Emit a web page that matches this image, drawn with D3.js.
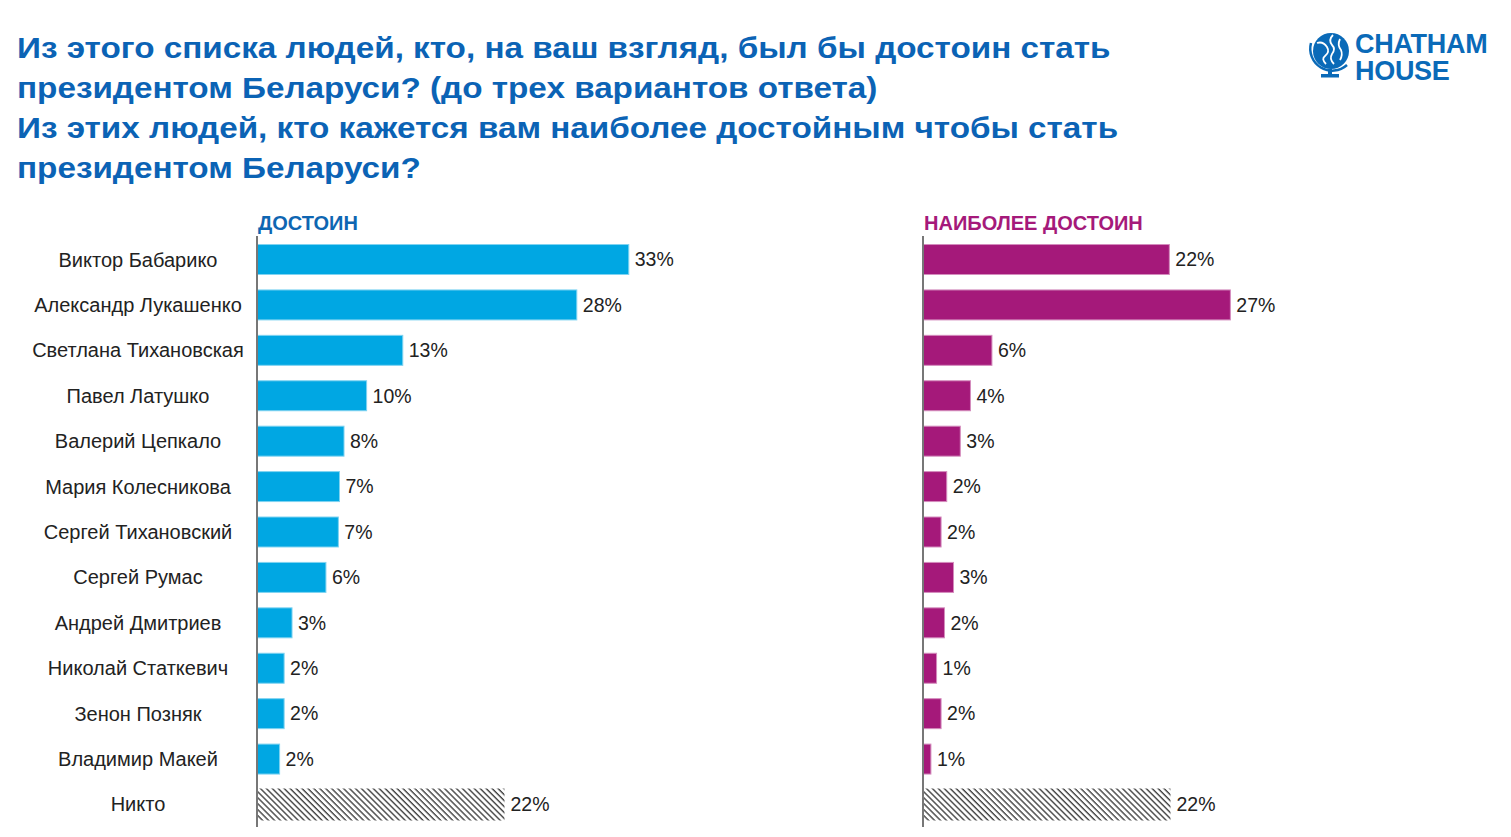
<!DOCTYPE html>
<html><head><meta charset="utf-8">
<script src="https://cdn.jsdelivr.net/npm/d3@7"></script>
<style>body{margin:0;background:#fff;}svg{display:block;font-family:"Liberation Sans",Arial,sans-serif;}</style>
</head><body>
<script>
const categories = ["Виктор Бабарико","Александр Лукашенко","Светлана Тихановская","Павел Латушко","Валерий Цепкало","Мария Колесникова","Сергей Тихановский","Сергей Румас","Андрей Дмитриев","Николай Статкевич","Зенон Позняк","Владимир Макей","Никто"];
const worthy = [32.9,28.3,12.9,9.7,7.7,7.3,7.2,6.1,3.1,2.4,2.4,2.0,21.9];
const mostWorthy = [21.8,27.2,6.1,4.2,3.3,2.1,1.6,2.7,1.9,1.2,1.6,0.7,21.9];
const seriesNames = ["ДОСТОИН","НАИБОЛЕЕ ДОСТОИН"];
const titleLines = ["Из этого списка людей, кто, на ваш взгляд, был бы достоин стать","президентом Беларуси? (до трех вариантов ответа)","Из этих людей, кто кажется вам наиболее достойным чтобы стать","президентом Беларуси?"];

const W=1511,H=837;
const svg=d3.select("body").append("svg").attr("width",W).attr("height",H);
const defs=svg.append("defs");
const pat=defs.append("pattern").attr("id","hatch").attr("patternUnits","userSpaceOnUse").attr("width",4.2).attr("height",4.2).attr("patternTransform","rotate(45)");
pat.append("rect").attr("width",4.2).attr("height",4.2).attr("fill","#fff");
pat.append("rect").attr("x",0).attr("y",0).attr("width",4.2).attr("height",1.4).attr("fill","#444");

// title
svg.append("g").attr("transform","translate(17,0) scale(1.147,1)")
  .selectAll("text").data(titleLines).join("text")
  .attr("x",0).attr("y",(d,i)=>58+i*40)
  .attr("font-size",29).attr("font-weight","bold").attr("fill","#0b63b5").text(d=>d);

// logo
const logo=svg.append("g");
logo.append("circle").attr("cx",1331).attr("cy",51).attr("r",18).attr("fill","#0a6ab8");
logo.append("path").attr("d","M1317,43 q6,-2 10,4 q3,5 -2,9 q-4,3 1,8 M1333,35 q-5,5 -1,10 q4,4 0,9 q-3,5 2,10 M1340,39 q-3,6 1,11 q2,5 -1,10")
  .attr("fill","none").attr("stroke","#fff").attr("stroke-width",1.8);
logo.append("path").attr("d","M1311,43 a22,22 0 0 0 36,22").attr("fill","none").attr("stroke","#0a6ab8").attr("stroke-width",2.5);
logo.append("rect").attr("x",1328).attr("y",69).attr("width",4).attr("height",6).attr("fill","#0a6ab8");
logo.append("rect").attr("x",1321).attr("y",74).attr("width",18).attr("height",3.5).attr("fill","#0a6ab8");
logo.append("text").attr("x",1355).attr("y",53).attr("font-size",27).attr("font-weight","bold").attr("fill","#0a6ab8").attr("letter-spacing",-0.3).text("CHATHAM");
logo.append("text").attr("x",1355).attr("y",80).attr("font-size",27).attr("font-weight","bold").attr("fill","#0a6ab8").attr("letter-spacing",-0.3).text("HOUSE");

const y=d3.scaleBand().domain(categories).range([236.8,827.2]).paddingInner(0.34).paddingOuter(0.17);
const x=d3.scaleLinear().domain([0,35]).range([0,395.5]);

// category labels
svg.append("g").selectAll("text").data(categories).join("text")
  .attr("x",138).attr("y",d=>y(d)+y.bandwidth()/2).attr("dy","0.35em")
  .attr("text-anchor","middle").attr("font-size",20).attr("fill","#222").text(d=>d);

const panels=[{x0:257,vals:worthy,color:"#00a7e3",stroke:"#7fd3f1",hcol:"#0e66b2",name:seriesNames[0]},
              {x0:923,vals:mostWorthy,color:"#a5197a",stroke:"#d48cbd",hcol:"#a5197a",name:seriesNames[1]}];
panels.forEach(p=>{
  const g=svg.append("g").attr("transform",`translate(${p.x0},0)`);
  g.append("text").attr("x",1).attr("y",230).attr("font-size",20).attr("font-weight","bold").attr("fill",p.hcol).text(p.name);
  const data=categories.map((c,i)=>({c,v:p.vals[i],none:c==="Никто"}));
  g.selectAll("rect.bar").data(data).join("rect").attr("class","bar")
    .attr("x",0).attr("y",d=>d.none?y(d.c)-1:y(d.c)).attr("width",d=>x(d.v)).attr("height",d=>d.none?32:y.bandwidth())
    .attr("fill",d=>d.none?"url(#hatch)":p.color)
    .attr("stroke",d=>d.none?"none":p.stroke).attr("stroke-width",1);
  g.selectAll("text.val").data(data).join("text").attr("class","val")
    .attr("x",d=>x(d.v)+6).attr("y",d=>y(d.c)+y.bandwidth()/2).attr("dy","0.35em")
    .attr("font-size",19.5).attr("fill","#222").text(d=>Math.round(d.v)+"%");
  g.append("line").attr("x1",0).attr("x2",0).attr("y1",236).attr("y2",827).attr("stroke","#777").attr("stroke-width",2);
});
</script>
</body></html>
